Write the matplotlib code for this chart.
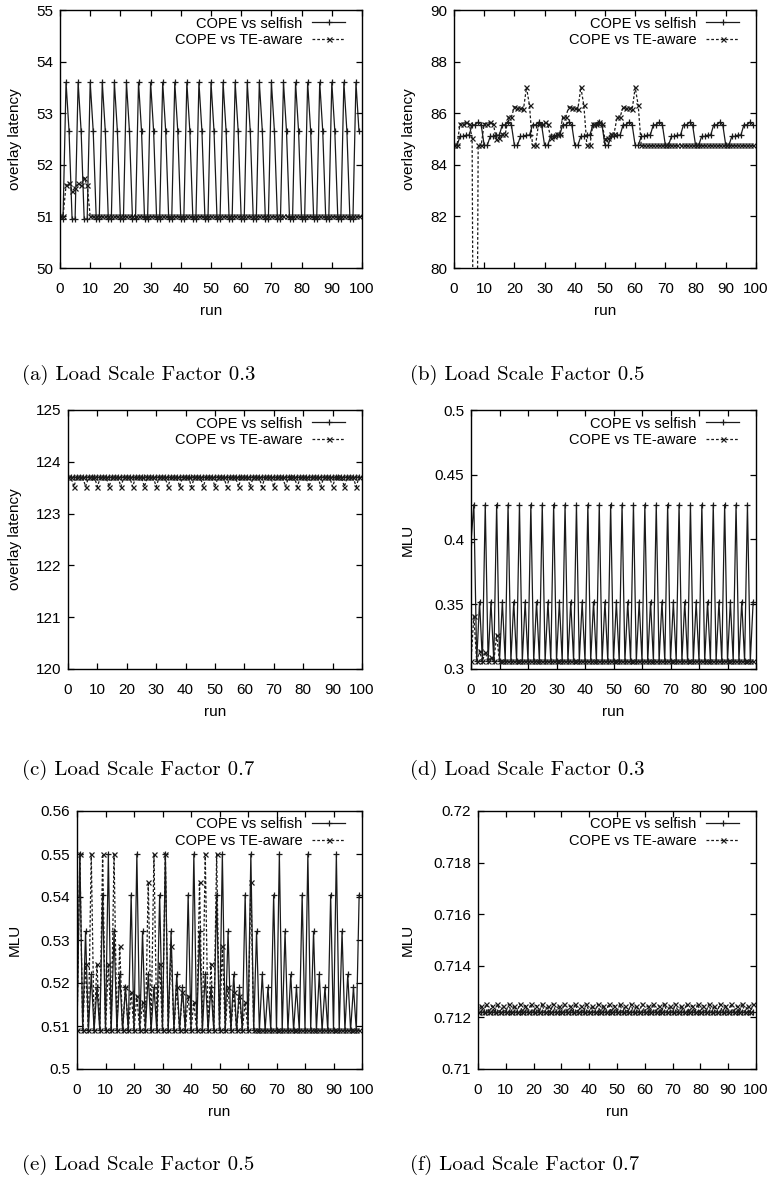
import matplotlib
matplotlib.use('Agg')
import matplotlib.pyplot as plt
from matplotlib.ticker import MultipleLocator, FormatStrFormatter

plt.rcParams['font.family'] = ['Liberation Sans', 'DejaVu Sans']

runs = list(range(100))

# (a) overlay latency, load scale factor 0.3
a_selfish = [
    51.0, 50.95, 53.6, 52.65, 50.95, 50.95, 53.6, 52.65, 50.95, 50.95,
    53.6, 52.65, 50.95, 50.95, 53.6, 52.65, 50.95, 50.95, 53.6, 52.65,
    50.95, 50.95, 53.6, 52.65, 50.95, 50.95, 53.6, 52.65, 50.95, 50.95,
    53.6, 52.65, 50.95, 50.95, 53.6, 52.65, 50.95, 50.95, 53.6, 52.65,
    50.95, 50.95, 53.6, 52.65, 50.95, 50.95, 53.6, 52.65, 50.95, 50.95,
    53.6, 52.65, 50.95, 50.95, 53.6, 52.65, 50.95, 50.95, 53.6, 52.65,
    50.95, 50.95, 53.6, 52.65, 50.95, 50.95, 53.6, 52.65, 50.95, 50.95,
    53.6, 52.65, 50.95, 50.95, 53.6, 52.65, 50.95, 50.95, 53.6, 52.65,
    50.95, 50.95, 53.6, 52.65, 50.95, 50.95, 53.6, 52.65, 50.95, 50.95,
    53.6, 52.65, 50.95, 50.95, 53.6, 52.65, 50.95, 50.95, 53.6, 52.65]
a_teaware = [
    51.0, 51.0, 51.6, 51.65, 51.5, 51.55, 51.65, 51.6, 51.75, 51.6,
    51.0, 51.0, 51.0, 51.0, 51.0, 51.0, 51.0, 51.0, 51.0, 51.0,
    51.0, 51.0, 51.0, 51.0, 51.0, 51.0, 51.0, 51.0, 51.0, 51.0,
    51.0, 51.0, 51.0, 51.0, 51.0, 51.0, 51.0, 51.0, 51.0, 51.0,
    51.0, 51.0, 51.0, 51.0, 51.0, 51.0, 51.0, 51.0, 51.0, 51.0,
    51.0, 51.0, 51.0, 51.0, 51.0, 51.0, 51.0, 51.0, 51.0, 51.0,
    51.0, 51.0, 51.0, 51.0, 51.0, 51.0, 51.0, 51.0, 51.0, 51.0,
    51.0, 51.0, 51.0, 51.0, 51.0, 51.0, 51.0, 51.0, 51.0, 51.0,
    51.0, 51.0, 51.0, 51.0, 51.0, 51.0, 51.0, 51.0, 51.0, 51.0,
    51.0, 51.0, 51.0, 51.0, 51.0, 51.0, 51.0, 51.0, 51.0, 51.0]

# (b) overlay latency, load scale factor 0.5
b_selfish = [
    84.75, 84.75, 85.1, 85.1, 85.15, 85.15, 85.55, 85.55, 85.65, 85.55,
    84.75, 84.75, 85.1, 85.1, 85.15, 85.15, 85.55, 85.55, 85.65, 85.55,
    84.75, 84.75, 85.1, 85.1, 85.15, 85.15, 85.55, 85.55, 85.65, 85.55,
    84.75, 84.75, 85.1, 85.1, 85.15, 85.15, 85.55, 85.55, 85.65, 85.55,
    84.75, 84.75, 85.1, 85.1, 85.15, 85.15, 85.55, 85.55, 85.65, 85.55,
    84.75, 84.75, 85.1, 85.1, 85.15, 85.15, 85.55, 85.55, 85.65, 85.55,
    84.75, 84.75, 85.1, 85.1, 85.15, 85.15, 85.55, 85.55, 85.65, 85.55,
    84.75, 84.75, 85.1, 85.1, 85.15, 85.15, 85.55, 85.55, 85.65, 85.55,
    84.75, 84.75, 85.1, 85.1, 85.15, 85.15, 85.55, 85.55, 85.65, 85.55,
    84.75, 84.75, 85.1, 85.1, 85.15, 85.15, 85.55, 85.55, 85.65, 85.55]
b_teaware = [
    84.75, 84.75, 85.6, 85.6, 85.65, 85.6, 85.05, 60.0, 84.75, 84.75,
    85.6, 85.6, 85.65, 85.6, 85.0, 85.05, 85.2, 85.2, 85.85, 85.85,
    86.25, 86.2, 86.2, 86.15, 87.0, 86.3, 84.75, 84.75, 85.6, 85.6,
    85.65, 85.6, 85.05, 85.1, 85.2, 85.2, 85.85, 85.85, 86.25, 86.2,
    86.2, 86.15, 87.0, 86.3, 84.75, 84.75, 85.6, 85.6, 85.65, 85.6,
    85.0, 85.05, 85.2, 85.2, 85.85, 85.85, 86.25, 86.2, 86.2, 86.15,
    87.0, 86.3, 84.75, 84.75, 84.75, 84.75, 84.75, 84.75, 84.75, 84.75,
    84.75, 84.75, 84.75, 84.75, 84.75, 84.75, 84.75, 84.75, 84.75, 84.75,
    84.75, 84.75, 84.75, 84.75, 84.75, 84.75, 84.75, 84.75, 84.75, 84.75,
    84.75, 84.75, 84.75, 84.75, 84.75, 84.75, 84.75, 84.75, 84.75, 84.75]

# (c) overlay latency, load scale factor 0.7
c_selfish = [
    123.7, 123.7, 123.7, 123.7, 123.7, 123.7, 123.7, 123.7, 123.7, 123.7,
    123.7, 123.7, 123.7, 123.7, 123.7, 123.7, 123.7, 123.7, 123.7, 123.7,
    123.7, 123.7, 123.7, 123.7, 123.7, 123.7, 123.7, 123.7, 123.7, 123.7,
    123.7, 123.7, 123.7, 123.7, 123.7, 123.7, 123.7, 123.7, 123.7, 123.7,
    123.7, 123.7, 123.7, 123.7, 123.7, 123.7, 123.7, 123.7, 123.7, 123.7,
    123.7, 123.7, 123.7, 123.7, 123.7, 123.7, 123.7, 123.7, 123.7, 123.7,
    123.7, 123.7, 123.7, 123.7, 123.7, 123.7, 123.7, 123.7, 123.7, 123.7,
    123.7, 123.7, 123.7, 123.7, 123.7, 123.7, 123.7, 123.7, 123.7, 123.7,
    123.7, 123.7, 123.7, 123.7, 123.7, 123.7, 123.7, 123.7, 123.7, 123.7,
    123.7, 123.7, 123.7, 123.7, 123.7, 123.7, 123.7, 123.7, 123.7, 123.7]
c_teaware = [
    123.7, 123.7, 123.52, 123.7, 123.7, 123.7, 123.52, 123.7, 123.7, 123.7,
    123.52, 123.7, 123.7, 123.7, 123.52, 123.7, 123.7, 123.7, 123.52, 123.7,
    123.7, 123.7, 123.52, 123.7, 123.7, 123.7, 123.52, 123.7, 123.7, 123.7,
    123.52, 123.7, 123.7, 123.7, 123.52, 123.7, 123.7, 123.7, 123.52, 123.7,
    123.7, 123.7, 123.52, 123.7, 123.7, 123.7, 123.52, 123.7, 123.7, 123.7,
    123.52, 123.7, 123.7, 123.7, 123.52, 123.7, 123.7, 123.7, 123.52, 123.7,
    123.7, 123.7, 123.52, 123.7, 123.7, 123.7, 123.52, 123.7, 123.7, 123.7,
    123.52, 123.7, 123.7, 123.7, 123.52, 123.7, 123.7, 123.7, 123.52, 123.7,
    123.7, 123.7, 123.52, 123.7, 123.7, 123.7, 123.52, 123.7, 123.7, 123.7,
    123.52, 123.7, 123.7, 123.7, 123.52, 123.7, 123.7, 123.7, 123.52, 123.7]

# (d) MLU, load scale factor 0.3
d_selfish = [
    0.398, 0.427, 0.306, 0.352, 0.306, 0.427, 0.306, 0.352, 0.306, 0.427,
    0.306, 0.352, 0.306, 0.427, 0.306, 0.352, 0.306, 0.427, 0.306, 0.352,
    0.306, 0.427, 0.306, 0.352, 0.306, 0.427, 0.306, 0.352, 0.306, 0.427,
    0.306, 0.352, 0.306, 0.427, 0.306, 0.352, 0.306, 0.427, 0.306, 0.352,
    0.306, 0.427, 0.306, 0.352, 0.306, 0.427, 0.306, 0.352, 0.306, 0.427,
    0.306, 0.352, 0.306, 0.427, 0.306, 0.352, 0.306, 0.427, 0.306, 0.352,
    0.306, 0.427, 0.306, 0.352, 0.306, 0.427, 0.306, 0.352, 0.306, 0.427,
    0.306, 0.352, 0.306, 0.427, 0.306, 0.352, 0.306, 0.427, 0.306, 0.352,
    0.306, 0.427, 0.306, 0.352, 0.306, 0.427, 0.306, 0.352, 0.306, 0.427,
    0.306, 0.352, 0.306, 0.427, 0.306, 0.352, 0.306, 0.427, 0.306, 0.352]
d_teaware = [
    0.306, 0.341, 0.306, 0.314, 0.306, 0.313, 0.306, 0.309, 0.306, 0.326,
    0.306, 0.306, 0.306, 0.306, 0.306, 0.306, 0.306, 0.306, 0.306, 0.306,
    0.306, 0.306, 0.306, 0.306, 0.306, 0.306, 0.306, 0.306, 0.306, 0.306,
    0.306, 0.306, 0.306, 0.306, 0.306, 0.306, 0.306, 0.306, 0.306, 0.306,
    0.306, 0.306, 0.306, 0.306, 0.306, 0.306, 0.306, 0.306, 0.306, 0.306,
    0.306, 0.306, 0.306, 0.306, 0.306, 0.306, 0.306, 0.306, 0.306, 0.306,
    0.306, 0.306, 0.306, 0.306, 0.306, 0.306, 0.306, 0.306, 0.306, 0.306,
    0.306, 0.306, 0.306, 0.306, 0.306, 0.306, 0.306, 0.306, 0.306, 0.306,
    0.306, 0.306, 0.306, 0.306, 0.306, 0.306, 0.306, 0.306, 0.306, 0.306,
    0.306, 0.306, 0.306, 0.306, 0.306, 0.306, 0.306, 0.306, 0.306, 0.306]

# (e) MLU, load scale factor 0.5
e_selfish = [
    0.509, 0.55, 0.509, 0.532, 0.509, 0.522, 0.509, 0.519, 0.509, 0.5405,
    0.509, 0.55, 0.509, 0.532, 0.509, 0.522, 0.509, 0.519, 0.509, 0.5405,
    0.509, 0.55, 0.509, 0.532, 0.509, 0.522, 0.509, 0.519, 0.509, 0.5405,
    0.509, 0.55, 0.509, 0.532, 0.509, 0.522, 0.509, 0.519, 0.509, 0.5405,
    0.509, 0.55, 0.509, 0.532, 0.509, 0.522, 0.509, 0.519, 0.509, 0.5405,
    0.509, 0.55, 0.509, 0.532, 0.509, 0.522, 0.509, 0.519, 0.509, 0.5405,
    0.509, 0.55, 0.509, 0.532, 0.509, 0.522, 0.509, 0.519, 0.509, 0.5405,
    0.509, 0.55, 0.509, 0.532, 0.509, 0.522, 0.509, 0.519, 0.509, 0.5405,
    0.509, 0.55, 0.509, 0.532, 0.509, 0.522, 0.509, 0.519, 0.509, 0.5405,
    0.509, 0.55, 0.509, 0.532, 0.509, 0.522, 0.509, 0.519, 0.509, 0.5405]
e_teaware = [
    0.509, 0.55, 0.509, 0.5245, 0.509, 0.55, 0.509, 0.5245, 0.509, 0.55,
    0.509, 0.5245, 0.509, 0.55, 0.509, 0.5285, 0.509, 0.519, 0.509, 0.518,
    0.509, 0.517, 0.509, 0.5155, 0.509, 0.5435, 0.509, 0.55, 0.509, 0.5245,
    0.509, 0.55, 0.509, 0.5285, 0.509, 0.519, 0.509, 0.518, 0.509, 0.517,
    0.509, 0.5155, 0.509, 0.5435, 0.509, 0.55, 0.509, 0.5245, 0.509, 0.55,
    0.509, 0.5285, 0.509, 0.519, 0.509, 0.518, 0.509, 0.517, 0.509, 0.5155,
    0.509, 0.5435, 0.509, 0.509, 0.509, 0.509, 0.509, 0.509, 0.509, 0.509,
    0.509, 0.509, 0.509, 0.509, 0.509, 0.509, 0.509, 0.509, 0.509, 0.509,
    0.509, 0.509, 0.509, 0.509, 0.509, 0.509, 0.509, 0.509, 0.509, 0.509,
    0.509, 0.509, 0.509, 0.509, 0.509, 0.509, 0.509, 0.509, 0.509, 0.509]

# (f) MLU, load scale factor 0.7
f_selfish = [
    0.7122, 0.7122, 0.7122, 0.7122, 0.7122, 0.7122, 0.7122, 0.7122, 0.7122, 0.7122,
    0.7122, 0.7122, 0.7122, 0.7122, 0.7122, 0.7122, 0.7122, 0.7122, 0.7122, 0.7122,
    0.7122, 0.7122, 0.7122, 0.7122, 0.7122, 0.7122, 0.7122, 0.7122, 0.7122, 0.7122,
    0.7122, 0.7122, 0.7122, 0.7122, 0.7122, 0.7122, 0.7122, 0.7122, 0.7122, 0.7122,
    0.7122, 0.7122, 0.7122, 0.7122, 0.7122, 0.7122, 0.7122, 0.7122, 0.7122, 0.7122,
    0.7122, 0.7122, 0.7122, 0.7122, 0.7122, 0.7122, 0.7122, 0.7122, 0.7122, 0.7122,
    0.7122, 0.7122, 0.7122, 0.7122, 0.7122, 0.7122, 0.7122, 0.7122, 0.7122, 0.7122,
    0.7122, 0.7122, 0.7122, 0.7122, 0.7122, 0.7122, 0.7122, 0.7122, 0.7122, 0.7122,
    0.7122, 0.7122, 0.7122, 0.7122, 0.7122, 0.7122, 0.7122, 0.7122, 0.7122, 0.7122,
    0.7122, 0.7122, 0.7122, 0.7122, 0.7122, 0.7122, 0.7122, 0.7122, 0.7122, 0.7122]
f_teaware = [
    0.7122, 0.71246, 0.7122, 0.71252, 0.7122, 0.71246, 0.7122, 0.71252, 0.7122, 0.71246,
    0.7122, 0.71252, 0.7122, 0.71246, 0.7122, 0.71252, 0.7122, 0.71246, 0.7122, 0.71252,
    0.7122, 0.71246, 0.7122, 0.71252, 0.7122, 0.71246, 0.7122, 0.71252, 0.7122, 0.71246,
    0.7122, 0.71252, 0.7122, 0.71246, 0.7122, 0.71252, 0.7122, 0.71246, 0.7122, 0.71252,
    0.7122, 0.71246, 0.7122, 0.71252, 0.7122, 0.71246, 0.7122, 0.71252, 0.7122, 0.71246,
    0.7122, 0.71252, 0.7122, 0.71246, 0.7122, 0.71252, 0.7122, 0.71246, 0.7122, 0.71252,
    0.7122, 0.71246, 0.7122, 0.71252, 0.7122, 0.71246, 0.7122, 0.71252, 0.7122, 0.71246,
    0.7122, 0.71252, 0.7122, 0.71246, 0.7122, 0.71252, 0.7122, 0.71246, 0.7122, 0.71252,
    0.7122, 0.71246, 0.7122, 0.71252, 0.7122, 0.71246, 0.7122, 0.71252, 0.7122, 0.71246,
    0.7122, 0.71252, 0.7122, 0.71246, 0.7122, 0.71252, 0.7122, 0.71246, 0.7122, 0.71252]

W, H = 770, 1194
fig = plt.figure(figsize=(W / 100, H / 100), dpi=100)

LINE = '#1a1a1a'
FS = 11      # ticks and axis labels
LFS = 10.5   # legend


def panel(box, sel, te, ylim, ystep, ylabel, ylab_x, caption, cap_x, cap_y):
    # box = (left, top, right, bottom) in pixels
    l, t, r, b = box
    ax = fig.add_axes([l / W, 1 - b / H, (r - l) / W, (b - t) / H])
    ax.plot(runs, sel, color=LINE, lw=0.9, marker='+', ms=4.5, mew=0.9,
            label='COPE vs selfish')
    ax.plot(runs, te, color=LINE, lw=0.9, ls=(0, (2.2, 1.6)), marker='x', ms=3.6, mew=0.9,
            label='COPE vs TE-aware')
    ax.set_xlim(0, 100)
    ax.set_ylim(*ylim)
    ax.xaxis.set_major_locator(MultipleLocator(10))
    ax.yaxis.set_major_locator(MultipleLocator(ystep))
    ax.yaxis.set_major_formatter(FormatStrFormatter('%g'))
    ax.tick_params(direction='in', length=4.5, width=0.9, top=True, right=True,
                   labelsize=FS)
    ax.tick_params(axis='x', pad=10)
    ax.tick_params(axis='y', pad=5)
    for s in ax.spines.values():
        s.set_linewidth(1.0)
    ax.set_xlabel('run', fontsize=FS)
    ax.xaxis.set_label_coords(0.5, -43 / (b - t))
    ax.xaxis.label.set_va('center')
    ax.set_ylabel(ylabel, fontsize=FS)
    ax.yaxis.set_label_coords((ylab_x - l) / (r - l), 0.5)
    ax.yaxis.label.set_va('center')
    ax.legend(loc='upper right', bbox_to_anchor=(1 - 17 / (r - l), 1 - 6.5 / (b - t)),
              frameon=False, markerfirst=False, numpoints=1, fontsize=LFS,
              handlelength=2.25, handletextpad=0.68, labelspacing=0.2,
              borderpad=0, borderaxespad=0)
    fig.text(cap_x / W, 1 - cap_y / H, caption, family='cmr10', fontsize=15,
             ha='left', va='center')
    return ax


panel((60, 10, 362, 268), a_selfish, a_teaware, (50, 55), 1, 'overlay latency', 15,
      '(a) Load Scale Factor 0.3', 22, 375)
panel((454, 10, 756, 268), b_selfish, b_teaware, (80, 90), 2, 'overlay latency', 409,
      '(b) Load Scale Factor 0.5', 410, 375)
panel((68, 410, 362, 669), c_selfish, c_teaware, (120, 125), 1, 'overlay latency', 15,
      '(c) Load Scale Factor 0.7', 22, 770)
panel((471, 410, 756, 669), d_selfish, d_teaware, (0.3, 0.5), 0.05, 'MLU', 408,
      '(d) Load Scale Factor 0.3', 410, 770)
panel((77, 811, 362, 1069), e_selfish, e_teaware, (0.5, 0.56), 0.01, 'MLU', 15,
      '(e) Load Scale Factor 0.5', 22, 1165)
panel((478, 811, 756, 1069), f_selfish, f_teaware, (0.71, 0.72), 0.002, 'MLU', 408,
      '(f) Load Scale Factor 0.7', 410, 1165)

fig.savefig('out.png', dpi=100)
